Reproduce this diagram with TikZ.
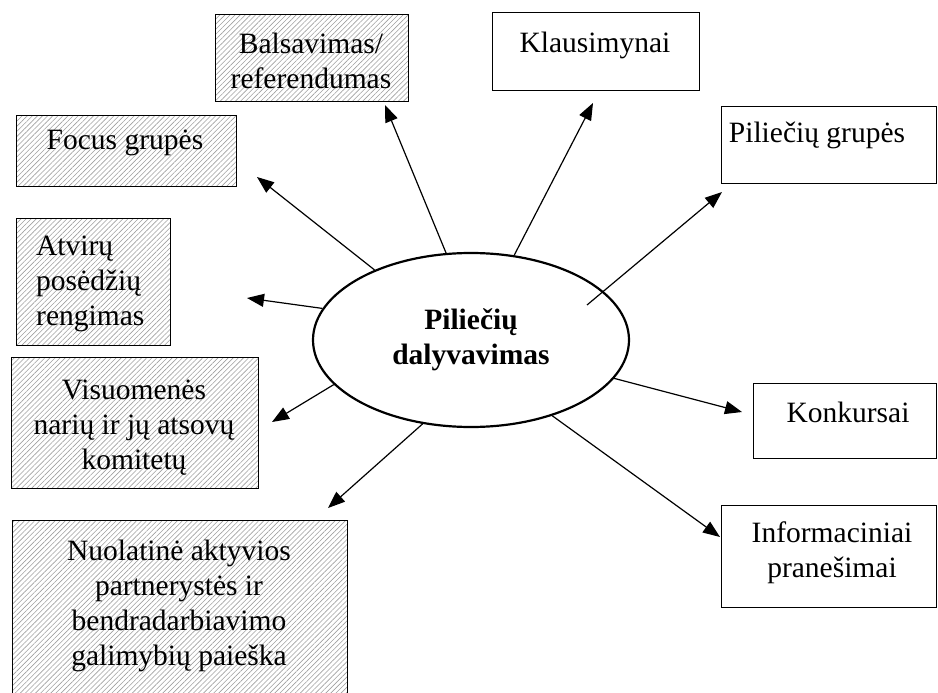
\documentclass[tikz,border=0pt]{standalone}
\usepackage{fontspec}
\setmainfont{Liberation Serif}
\usetikzlibrary{arrows.meta,shapes.geometric,patterns.meta}

\begin{document}
\begin{tikzpicture}
[x=1pt,y=-1pt,
  boxFrame/.style={draw,line width=1.4pt,anchor=north west,inner sep=0pt},
  hatchFrame/.style={boxFrame,pattern={Lines[angle=45,distance=3.6pt,line width=0.6pt]},pattern color=gray!75},
  boxText/.style={align=center,inner sep=0pt,font=\fontsize{29.5}{35}\selectfont},
  lineDecorate/.style={-{Triangle[length=17pt,width=13pt]},line width=1.2pt}]
\clip (0,0) rectangle (938,693);
% hatched boxes on the left
\node[hatchFrame,minimum width=193,minimum height=87] (bals) at (215,14) {};
\node[hatchFrame,minimum width=220,minimum height=71] (focus) at (16,115) {};
\node[hatchFrame,minimum width=154,minimum height=127] (atv) at (16,218) {};
\node[hatchFrame,minimum width=247,minimum height=131] (visuom) at (11,357) {};
\node[hatchFrame,minimum width=335,minimum height=190] (nuol) at (12,520) {};
% plain boxes on the right
\node[boxFrame,minimum width=207,minimum height=78] (klaus) at (492,12) {};
\node[boxFrame,minimum width=215,minimum height=77] (pil) at (721,106) {};
\node[boxFrame,minimum width=183,minimum height=75] (konk) at (753,383) {};
\node[boxFrame,minimum width=215,minimum height=102] (info) at (721,505) {};
% texts
\node[boxText] (balsText) at (311,61) {Balsavimas/\\referendumas};
\node[boxText] (focusText) at (125,143) {Focus grupės};
\node[boxText,align=left,anchor=west] (atvText) at (36,284) {Atvirų\\posėdžių\\rengimas};
\node[boxText] (visuomText) at (134,428) {Visuomenės\\narių ir jų atsovų\\komitetų};
\node[boxText] (nuolText) at (179,606) {Nuolatinė aktyvios\\partnerystės ir\\bendradarbiavimo\\galimybių paieška};
\node[boxText] (klausText) at (595,45) {Klausimynai};
\node[boxText] (pilText) at (817,135) {Piliečių grupės};
\node[boxText] (konkText) at (848,412) {Konkursai};
\node[boxText] (infoText) at (832,553) {Informaciniai\\pranešimai};
% centre
\node[draw,ellipse,line width=2.2pt,minimum width=316,minimum height=174,
  align=center,font=\bfseries\fontsize{29.5}{35}\selectfont] (dal) at (471,340)
  {Piliečių\\dalyvavimas};
% arrow ends
\coordinate (pilStart) at (587,305);
\coordinate (balsTip) at (385,105);
\coordinate (klausTip) at (593,103);
\coordinate (pilTip) at (722,192);
\coordinate (focusTip) at (257,177);
\coordinate (atvTip) at (247,298);
\coordinate (visuomTip) at (272,422);
\coordinate (nuolTip) at (328,508);
\coordinate (konkTip) at (742,412);
\coordinate (infoTip) at (720,537);
\foreach \startNode/\endNode in {
  dal.106.5/balsTip, dal.63.4/klausTip, pilStart/pilTip,
  dal.144.7/focusTip, dal.168.2/atvTip, dal.198.2/visuomTip,
  dal.240.5/nuolTip, dal.-15/konkTip, dal.-43.6/infoTip}
{
  \draw[lineDecorate] (\startNode) -- (\endNode);
}
\end{tikzpicture}
\end{document}
